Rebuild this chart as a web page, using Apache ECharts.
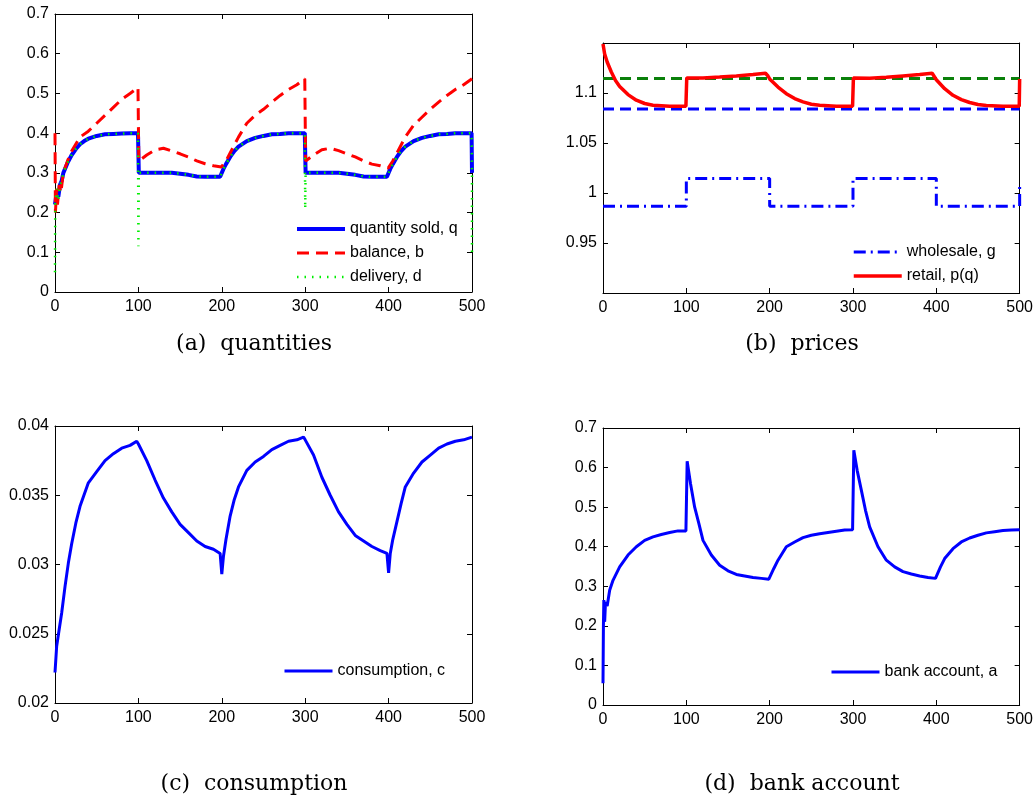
<!DOCTYPE html>
<html>
<head>
<meta charset="utf-8">
<script src="https://cdn.jsdelivr.net/npm/echarts@6/dist/echarts.min.js"></script>
<style>
  html, body { margin: 0; padding: 0; background: #fff; }
  #chart { width: 1036px; height: 802px; }
</style>
</head>
<body>
<div id="chart"></div>
<script>
// (a) quantities
const quantitySold = [[0,0.22],[2,0.25],[4,0.24],[6,0.27],[8,0.28],[10,0.3],[15,0.325],[20,0.345],[25,0.36],[30,0.372],[35,0.38],[40,0.386],[50,0.393],[60,0.397],[70,0.398],[80,0.399],[90,0.4],[99.5,0.4],[100.5,0.3],[120,0.3],[140,0.3],[150,0.298],[160,0.295],[170,0.291],[180,0.29],[190,0.29],[198,0.29],[200,0.295],[202,0.31],[205,0.322],[210,0.34],[215,0.355],[220,0.366],[230,0.38],[240,0.388],[250,0.393],[260,0.397],[270,0.398],[280,0.4],[299.5,0.4],[300.5,0.3],[320,0.3],[340,0.3],[350,0.298],[360,0.295],[370,0.291],[380,0.29],[390,0.29],[398,0.29],[400,0.295],[402,0.31],[405,0.322],[410,0.34],[415,0.355],[420,0.366],[430,0.38],[440,0.388],[450,0.393],[460,0.397],[470,0.398],[480,0.4],[499.5,0.4],[500,0.3]];
const balance = [[0,0.4],[0.5,0.2],[2,0.26],[3,0.22],[5,0.27],[7,0.25],[10,0.3],[15,0.33],[20,0.355],[30,0.39],[40,0.405],[50,0.425],[60,0.445],[70,0.465],[80,0.485],[90,0.5],[99.5,0.515],[100.5,0.33],[110,0.345],[120,0.358],[130,0.362],[140,0.355],[150,0.348],[160,0.34],[170,0.33],[180,0.323],[190,0.318],[199.5,0.315],[205,0.33],[210,0.35],[220,0.39],[230,0.425],[240,0.445],[250,0.46],[260,0.478],[270,0.495],[280,0.51],[290,0.522],[299.5,0.537],[300.5,0.33],[310,0.345],[320,0.358],[330,0.362],[340,0.356],[350,0.348],[360,0.34],[370,0.33],[380,0.322],[390,0.318],[399.5,0.312],[405,0.33],[410,0.35],[420,0.39],[430,0.42],[440,0.44],[450,0.46],[460,0.478],[470,0.495],[480,0.51],[490,0.522],[500,0.537]];
const delivery = [[0,0.05],[0.3,0.22],[2,0.26],[4,0.23],[6,0.27],[8,0.28],[10,0.3],[15,0.325],[20,0.345],[25,0.36],[30,0.372],[35,0.38],[40,0.386],[50,0.393],[60,0.397],[70,0.398],[80,0.399],[90,0.4],[99.5,0.4],[100,0.115],[100.5,0.3],[120,0.3],[140,0.3],[150,0.298],[160,0.295],[170,0.291],[180,0.29],[190,0.29],[198,0.29],[200,0.295],[202,0.31],[205,0.322],[210,0.34],[215,0.355],[220,0.366],[230,0.38],[240,0.388],[250,0.393],[260,0.397],[270,0.398],[280,0.4],[299.5,0.4],[300,0.21],[300.5,0.3],[320,0.3],[340,0.3],[350,0.298],[360,0.295],[370,0.291],[380,0.29],[390,0.29],[398,0.29],[400,0.295],[402,0.31],[405,0.322],[410,0.34],[415,0.355],[420,0.366],[430,0.38],[440,0.388],[450,0.393],[460,0.397],[470,0.398],[480,0.4],[499.5,0.4],[500,0.3],[500,0.1]];

// (b) prices
const wholesale = [[0,0.9868],[100,0.9868],[100,1.0146],[200,1.0146],[200,0.9868],[300,0.9868],[300,1.0146],[400,1.0146],[400,0.9868],[500,0.9868],[500,1.011]];
const retail = [[0,1.149],[2,1.139],[5,1.131],[10,1.121],[15,1.1125],[20,1.1066],[30,1.0984],[40,1.0928],[50,1.0895],[60,1.0878],[80,1.0868],[99.5,1.0868],[100.5,1.1151],[120,1.1151],[140,1.116],[160,1.1171],[180,1.1184],[195,1.1197],[198,1.117],[200,1.1141],[210,1.1059],[220,1.0993],[230,1.0944],[240,1.0911],[250,1.0888],[260,1.0878],[280,1.0868],[299.5,1.0868],[300.5,1.1151],[320,1.1148],[340,1.1158],[360,1.1171],[380,1.1184],[395,1.1197],[400,1.1132],[410,1.1043],[420,1.0977],[430,1.0934],[440,1.0905],[450,1.0885],[460,1.0875],[480,1.0868],[499.5,1.0868],[500,1.114]];
const upperLevel = [[0,1.1146],[500,1.1146]];
const lowerLevel = [[0,1.0839],[500,1.0839]];

// (c) consumption
const consumption = [[0,0.0222],[2,0.0241],[5,0.0253],[8,0.0265],[12,0.0284],[16,0.0301],[20,0.0315],[25,0.033],[30,0.0342],[40,0.0359],[50,0.0367],[60,0.0375],[70,0.038],[80,0.0384],[90,0.0386],[98,0.0389],[100,0.0387],[110,0.0375],[120,0.0361],[130,0.0348],[140,0.0338],[150,0.0329],[160,0.0323],[170,0.0317],[180,0.0313],[190,0.0311],[198,0.0308],[200,0.0293],[202,0.0306],[205,0.0318],[210,0.0335],[215,0.0347],[220,0.0356],[230,0.0368],[240,0.0374],[250,0.0378],[260,0.0383],[270,0.0386],[280,0.0389],[290,0.039],[298,0.0392],[300,0.039],[310,0.0379],[320,0.0363],[330,0.035],[340,0.0338],[350,0.0329],[360,0.0321],[370,0.0317],[380,0.0313],[390,0.031],[398,0.0308],[400,0.0294],[402,0.0308],[405,0.0318],[410,0.0331],[415,0.0344],[420,0.0356],[430,0.0366],[440,0.0374],[450,0.0379],[460,0.0384],[470,0.0387],[480,0.0389],[490,0.039],[500,0.0392]];

// (d) bank account
const bankAccount = [[0,0.055],[0.5,0.2],[1,0.265],[2,0.21],[3,0.26],[5,0.25],[8,0.29],[12,0.315],[20,0.349],[30,0.379],[40,0.4],[50,0.416],[60,0.425],[70,0.431],[80,0.436],[90,0.44],[99.5,0.44],[101,0.616],[105,0.56],[110,0.5],[115,0.459],[120,0.416],[130,0.379],[140,0.353],[150,0.339],[160,0.33],[170,0.326],[180,0.322],[190,0.32],[199,0.318],[205,0.345],[210,0.366],[215,0.383],[220,0.4],[230,0.412],[240,0.423],[250,0.429],[260,0.433],[270,0.436],[280,0.439],[290,0.442],[299.5,0.443],[301,0.644],[305,0.593],[310,0.543],[315,0.492],[320,0.45],[330,0.4],[340,0.366],[350,0.349],[360,0.337],[370,0.331],[380,0.326],[390,0.322],[399,0.32],[405,0.349],[410,0.37],[420,0.395],[430,0.412],[440,0.422],[450,0.429],[460,0.435],[470,0.438],[480,0.441],[490,0.442],[500,0.443]];

const xTicks = { min: 0, max: 500, interval: 100 };

const panels = [
  { left: 55, top: 14, width: 417, height: 278, y: { min: 0, max: 0.7, interval: 0.1 } },
  { left: 603, top: 43, width: 417, height: 250, y: { min: 0.9, max: 1.15, interval: 0.05, hideEnds: true } },
  { left: 55, top: 426, width: 417, height: 277, y: { min: 0.02, max: 0.04, interval: 0.005 } },
  { left: 603, top: 428, width: 417, height: 277, y: { min: 0, max: 0.7, interval: 0.1 } },
];

const labelFont = { color: '#000', fontSize: 16, fontFamily: 'Liberation Sans, Arial, sans-serif' };
const axisLine = { show: true, onZero: false, lineStyle: { color: '#000', width: 1 } };
const tick = { show: true, inside: true, length: 5, lineStyle: { color: '#000' } };

function fmt(v) { return String(parseFloat(v.toFixed(4))); }

const grid = [], xAxis = [], yAxis = [];
panels.forEach((p, i) => {
  grid.push({ left: p.left, top: p.top, width: p.width, height: p.height, containLabel: false });
  xAxis.push({ type: 'value', gridIndex: i, position: 'bottom', ...xTicks, axisLine, axisTick: tick,
    splitLine: { show: false }, axisLabel: { ...labelFont, margin: 7, formatter: fmt, showMinLabel: true, showMaxLabel: true } });
  xAxis.push({ type: 'value', gridIndex: i, position: 'top', ...xTicks, axisLine, axisTick: tick,
    splitLine: { show: false }, axisLabel: { show: false } });
  const hide = p.y.hideEnds;
  yAxis.push({ type: 'value', gridIndex: i, position: 'left', min: p.y.min, max: p.y.max, interval: p.y.interval,
    axisLine, axisTick: tick, splitLine: { show: false },
    axisLabel: { ...labelFont, margin: 6, showMinLabel: true, showMaxLabel: true,
      formatter: v => (hide && (Math.abs(v - p.y.min) < 1e-6 || Math.abs(v - p.y.max) < 1e-6)) ? '' : fmt(v) } });
  yAxis.push({ type: 'value', gridIndex: i, position: 'right', min: p.y.min, max: p.y.max, interval: p.y.interval,
    axisLine, axisTick: tick, splitLine: { show: false }, axisLabel: { show: false } });
});

function line(name, data, panel, color, width, type) {
  return {
    name, type: 'line', data, xAxisIndex: panel * 2, yAxisIndex: panel * 2,
    symbol: 'none', animation: false, silent: true,
    lineStyle: { color, width, type },
    itemStyle: { color },
  };
}

const series = [
  line('quantity sold, q', quantitySold, 0, '#0000ff', 4, 'solid'),
  line('balance, b', balance, 0, '#ff0000', 3, [12, 7]),
  line('delivery, d', delivery, 0, '#00ee00', 2.5, [1.5, 6]),
  line('upper level', upperLevel, 1, '#0a800a', 3, [11, 6]),
  line('lower level', lowerLevel, 1, '#0000ff', 3, [11, 6]),
  line('wholesale, g', wholesale, 1, '#0000ff', 3, [12, 5, 2, 5]),
  line('retail, p(q)', retail, 1, '#ff0000', 3.5, 'solid'),
  line('consumption, c', consumption, 2, '#0000ff', 3, 'solid'),
  line('bank account, a', bankAccount, 3, '#0000ff', 3, 'solid'),
];

const legendText = { color: '#000', fontSize: 16, fontFamily: 'Liberation Sans, Arial, sans-serif' };
function legend(names, left, top) {
  return { data: names, left, top, orient: 'vertical', itemWidth: 48, itemHeight: 14, itemGap: 8,
    itemStyle: { opacity: 0 }, lineStyle: { width: 'inherit' },
    textStyle: legendText, selectedMode: false, padding: 0 };
}

const captionFont = { color: '#000', fontSize: 22, fontWeight: 'normal', fontFamily: 'DejaVu Serif, serif' };
function caption(text, x, y) {
  return { text, left: x, top: y, textAlign: 'center', textStyle: captionFont, padding: 0 };
}

const chart = echarts.init(document.getElementById('chart'), null, { renderer: 'canvas' });
chart.setOption({
  backgroundColor: '#fff',
  animation: false,
  title: [
    caption('(a)  quantities', 254, 333),
    caption('(b)  prices', 802, 333),
    caption('(c)  consumption', 254, 773),
    caption('(d)  bank account', 802, 773),
  ],
  grid, xAxis, yAxis, series,
  legend: [
    legend(['quantity sold, q', 'balance, b', 'delivery, d'], 295, 221),
    legend(['wholesale, g', 'retail, p(q)'], 852, 244),
    legend(['consumption, c'], 283, 663),
    legend(['bank account, a'], 830, 664),
  ],
});
</script>
</body>
</html>
